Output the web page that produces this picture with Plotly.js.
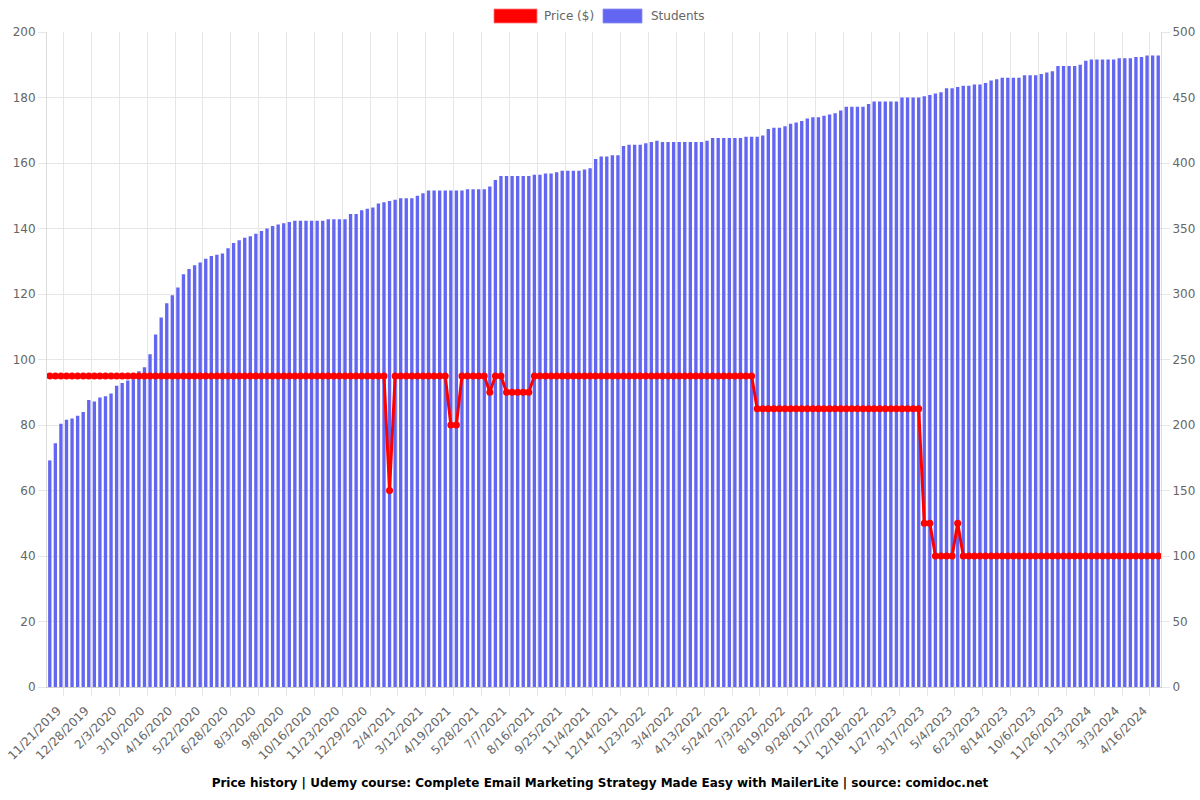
<!DOCTYPE html>
<html>
<head>
<meta charset="utf-8">
<script src="https://cdn.plot.ly/plotly-3.0.1.min.js"></script>
<style>html,body{margin:0;padding:0;background:#fff;}#chart{width:1200px;height:800px;}</style>
</head>
<body>
<div id="chart"></div>
<script>
// Tick labels (shown every 5th data point)
const tickLabels = ["11/21/2019","12/28/2019","2/3/2020","3/10/2020","4/16/2020","5/22/2020","6/28/2020","8/3/2020","9/8/2020","10/16/2020","11/23/2020","12/29/2020","2/4/2021","3/12/2021","4/19/2021","5/28/2021","7/7/2021","8/16/2021","9/25/2021","11/4/2021","12/14/2021","1/23/2022","3/4/2022","4/13/2022","5/24/2022","7/3/2022","8/19/2022","9/28/2022","11/7/2022","12/18/2022","1/27/2023","3/17/2023","5/4/2023","6/23/2023","8/14/2023","10/6/2023","11/26/2023","1/13/2024","3/3/2024","4/16/2024"];
const firstTickIndex = 3;
const tickStep = 5;

// Students (right axis)
const students = [
173,186,201,204,205,207,210,219,218,221,
222,224,230,232,234,235,241,244,254,269,
282,293,299,305,315,319,322,324,327,329,
330,331,335,339,341,343,344,346,348,350,
352,353,354,355,356,356,356,356,356,356,
357,357,357,357,361,361,364,365,366,369,
370,371,372,373,373,373,375,377,379,379,
379,379,379,379,379,380,380,380,380,382,
387,390,390,390,390,390,390,391,391,392,
392,393,394,394,394,394,395,396,403,405,
405,406,406,413,414,414,414,415,416,417,
416,416,416,416,416,416,416,416,417,419,
419,419,419,419,419,420,420,420,421,426,
427,427,428,430,431,432,434,435,435,436,
437,438,440,443,443,443,443,445,447,447,
447,447,447,450,450,450,450,451,452,453,
454,457,457,458,459,459,460,460,461,463,
464,465,465,465,465,467,467,467,468,469,
470,474,474,474,474,475,478,479,479,479,
479,479,480,480,480,481,481,482,482,482
];

// Price ($) (left axis)
const price = [
95,95,95,95,95,95,95,95,95,95,
95,95,95,95,95,95,95,95,95,95,
95,95,95,95,95,95,95,95,95,95,
95,95,95,95,95,95,95,95,95,95,
95,95,95,95,95,95,95,95,95,95,
95,95,95,95,95,95,95,95,95,95,
95,60,95,95,95,95,95,95,95,95,
95,95,80,80,95,95,95,95,95,90,
95,95,90,90,90,90,90,95,95,95,
95,95,95,95,95,95,95,95,95,95,
95,95,95,95,95,95,95,95,95,95,
95,95,95,95,95,95,95,95,95,95,
95,95,95,95,95,95,95,85,85,85,
85,85,85,85,85,85,85,85,85,85,
85,85,85,85,85,85,85,85,85,85,
85,85,85,85,85,85,85,50,50,40,
40,40,40,50,40,40,40,40,40,40,
40,40,40,40,40,40,40,40,40,40,
40,40,40,40,40,40,40,40,40,40,
40,40,40,40,40,40,40,40,40,40
];

const idx = students.map((_, i) => i);
const tickVals = tickLabels.map((_, k) => firstTickIndex + k * tickStep - 0.5);
const labelVals = tickVals.map(v => v - 1.1);

const FONT = "DejaVu Sans, sans-serif";
const GRID = "#e6e6e6";

const barTrace = {
  type: "bar", name: "Students", x: idx, y: students, xaxis: "x", yaxis: "y",
  marker: { color: "#6366f1", line: { width: 0 } },
  hoverinfo: "y"
};
const lineTrace = {
  type: "scatter", mode: "lines+markers", name: "Price ($)", x: idx, y: price, xaxis: "x", yaxis: "y2",
  line: { color: "#ff0000", width: 3 },
  marker: { color: "#ff0000", size: 7 },
  hoverinfo: "y"
};
// empty helper trace so the label axis (x2) is drawn
const labelAxisTrace = {
  type: "scatter", mode: "none", x: [], y: [], xaxis: "x2", yaxis: "y",
  showlegend: false, hoverinfo: "skip"
};

function px2x(p) { return (p - 47) / 1114; }
function py2y(p) { return (687 - p) / 655; }

const xRange = [-0.5, students.length - 0.5];

const layout = {
  width: 1200, height: 800,
  margin: { l: 47, r: 39, t: 32, b: 113 },
  paper_bgcolor: "#fff", plot_bgcolor: "#fff",
  showlegend: false,
  bargap: 0.4,
  font: { family: FONT, size: 12, color: "#666" },
  xaxis: {
    range: xRange,
    tickmode: "array", tickvals: tickVals, showticklabels: false,
    ticks: "outside", ticklen: 8, tickcolor: GRID,
    showgrid: true, gridcolor: GRID, gridwidth: 1,
    showline: true, linecolor: "#cfcfcf", linewidth: 1,
    zeroline: false, fixedrange: true
  },
  xaxis2: {
    overlaying: "x", anchor: "y", side: "bottom",
    range: xRange,
    tickmode: "array", tickvals: labelVals, ticktext: tickLabels,
    tickangle: -45, tickfont: { family: FONT, size: 12, color: "#666" },
    ticks: "outside", ticklen: 11, tickcolor: "rgba(0,0,0,0)",
    showgrid: false, showline: false, zeroline: false, fixedrange: true
  },
  yaxis: {
    side: "right", range: [0, 500], dtick: 50,
    tickfont: { family: FONT, size: 12, color: "#666" },
    ticks: "outside", ticklen: 8, tickcolor: GRID,
    showgrid: true, gridcolor: GRID, gridwidth: 1,
    showline: true, linecolor: "#dcdcdc",
    zeroline: false, fixedrange: true
  },
  yaxis2: {
    side: "left", overlaying: "y", range: [0, 200], dtick: 20,
    tickfont: { family: FONT, size: 12, color: "#666" },
    ticks: "outside", ticklen: 8, tickcolor: GRID,
    showgrid: false, showline: true, linecolor: "#dcdcdc",
    zeroline: false, fixedrange: true
  },
  title: {
    text: "Price history | Udemy course: Complete Email Marketing Strategy Made Easy with MailerLite | source: comidoc.net",
    font: { family: FONT, size: 12, color: "#000", weight: "bold" },
    x: 0.5, xref: "container", xanchor: "center",
    y: 1 - 783 / 800, yref: "container", yanchor: "middle"
  },
  shapes: [
    { type: "rect", xref: "paper", yref: "paper", x0: px2x(494), x1: px2x(537), y0: py2y(23), y1: py2y(9),
      fillcolor: "#ff0000", line: { color: "rgba(255,120,120,0.8)", width: 1 } },
    { type: "rect", xref: "paper", yref: "paper", x0: px2x(603), x1: px2x(642), y0: py2y(23), y1: py2y(9),
      fillcolor: "#6366f1", line: { color: "rgba(140,140,245,0.8)", width: 1 } }
  ],
  annotations: [
    { text: "Price ($)", xref: "paper", yref: "paper", x: px2x(542), y: py2y(16), xanchor: "left", yanchor: "middle",
      showarrow: false, font: { family: FONT, size: 12, color: "#666" } },
    { text: "Students", xref: "paper", yref: "paper", x: px2x(649), y: py2y(16), xanchor: "left", yanchor: "middle",
      showarrow: false, font: { family: FONT, size: 12, color: "#666" } }
  ]
};

Plotly.newPlot("chart", [barTrace, lineTrace, labelAxisTrace], layout, { displayModeBar: false, staticPlot: true });
</script>
</body>
</html>
